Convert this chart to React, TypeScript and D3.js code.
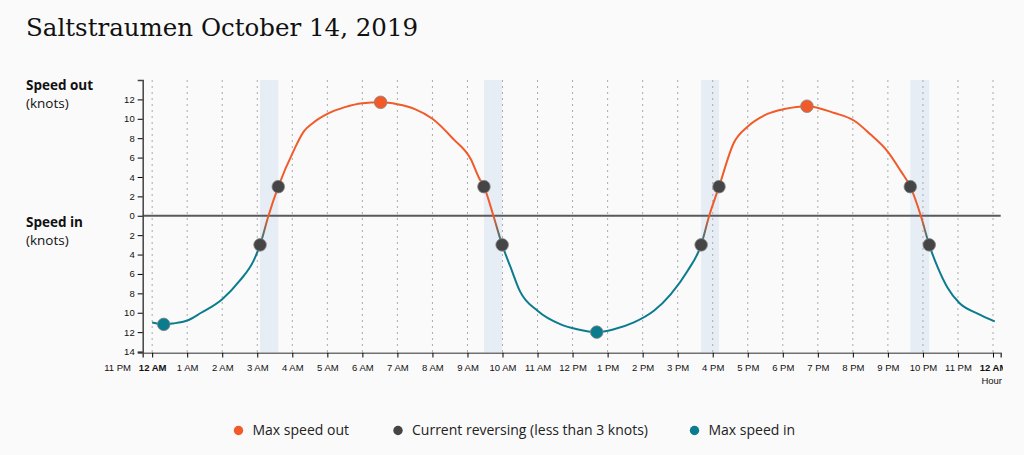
import React, { useEffect, useRef } from 'react';
import * as d3 from 'd3';

// hours after midnight Oct 14, speed in knots (+ = out, - = in)
const hours = [
  0, 0.33, 0.6, 1, 1.4, 2, 2.5, 2.9, 3.08, 3.32, 3.6, 4.05, 4.33, 4.6, 5, 5.5, 6, 6.52, 7, 7.5,
  8, 8.6, 9.1, 9.33, 9.47, 9.74, 9.99, 10.23, 10.5, 11, 11.66, 12.13, 12.69, 13.18, 13.75, 14.32,
  14.8, 15.28, 15.67, 15.9, 16.18, 16.6, 17, 17.56, 18.04, 18.69, 19.47, 20.04, 20.5, 21, 21.37,
  21.64, 21.94, 22.18, 22.42, 22.7, 23.04, 23.56, 24.05,
];
const speeds = [
  -11.0, -11.2, -11.1, -10.8, -10.0, -8.6, -6.7, -4.6, -3.0, 0, 3.0, 6.8, 8.7, 9.6, 10.5, 11.2, 11.6, 11.7, 11.5, 11.0,
  10.0, 7.9, 5.8, 3.9, 3.0, 0, -3.0, -5.3, -7.8, -9.8, -11.2, -11.7, -12.0, -11.7, -11.0, -9.8,
  -8.1, -5.7, -3.0, 0, 3.0, 7.5, 9.2, 10.5, 11.0, 11.3, 10.6, 9.8, 8.4, 6.6, 4.6,
  3.0, 0, -3.0, -5.3, -7.4, -9.0, -10.1, -10.9,
];

const maxOutHours = [6.52, 18.69];
const maxOutSpeeds = [11.7, 11.3];
const maxInHours = [0.33, 12.69];
const maxInSpeeds = [-11.2, -12.0];
const reversingHours = [3.08, 3.6, 9.47, 9.99, 15.67, 16.18, 21.64, 22.18];
const reversingSpeeds = [-3, 3, 3, -3, -3, 3, 3, -3];

const hourTicks = d3.range(-1, 25);
const speedTicks = d3.range(-14, 13, 2);
const legendLabels = ['Max speed out', 'Current reversing (less than 3 knots)', 'Max speed in'];

const ORANGE = '#f15a29';
const TEAL = '#0b7b8e';
const GREY = '#454545';

const hourLabel = (h: number) => {
  const hh = ((h % 24) + 24) % 24;
  const suffix = hh < 12 ? 'AM' : 'PM';
  const n = hh % 12 === 0 ? 12 : hh % 12;
  return `${n} ${suffix}`;
};

const App: React.FC = () => {
  const svgRef = useRef<SVGSVGElement>(null);

  useEffect(() => {
    if (!svgRef.current) return;
    const svg = d3.select(svgRef.current);
    svg.selectAll('*').remove();

    const x = d3.scaleLinear().domain([-0.27, 24.22]).range([142.7, 1000.7]);
    const y = d3.scaleLinear().domain([-14.1, 14]).range([352.5, 80]);
    const axisFont = '"Liberation Sans", Arial, sans-serif';
    const textFont = '"Open Sans", "Noto Sans", sans-serif';

    const defs = svg.append('defs');
    defs.append('clipPath').attr('id', 'clip-right')
      .append('rect').attr('x', 0).attr('y', 0).attr('width', 1003).attr('height', 455);
    const grad = defs.append('linearGradient').attr('id', 'flow')
      .attr('gradientUnits', 'userSpaceOnUse')
      .attr('x1', 0).attr('x2', 0).attr('y1', y(-3)).attr('y2', y(0));
    grad.append('stop').attr('offset', 0).attr('stop-color', TEAL);
    grad.append('stop').attr('offset', 1).attr('stop-color', ORANGE);

    // title
    svg.append('text').attr('x', 26).attr('y', 36)
      .attr('font-family', '"DejaVu Serif", serif').attr('font-size', 24.5)
      .attr('fill', '#111').text('Saltstraumen October 14, 2019');

    // slack water bands
    for (let i = 0; i < reversingHours.length; i += 2) {
      svg.append('rect')
        .attr('x', x(reversingHours[i]))
        .attr('y', y(14))
        .attr('width', x(reversingHours[i + 1]) - x(reversingHours[i]))
        .attr('height', y(-14.1) - y(14))
        .attr('fill', '#e7edf5');
    }

    // dotted hour grid
    svg.append('g').selectAll('line')
      .data(hourTicks.filter(h => h >= 0))
      .enter().append('line')
      .attr('x1', d => x(d)).attr('x2', d => x(d))
      .attr('y1', y(14)).attr('y2', y(-14.1))
      .attr('stroke', '#aaa').attr('stroke-width', 1).attr('stroke-dasharray', '2,4');

    // zero line
    svg.append('line')
      .attr('x1', x.range()[0]).attr('x2', x.range()[1])
      .attr('y1', y(0)).attr('y2', y(0))
      .attr('stroke', '#5a5a5a').attr('stroke-width', 2);

    // y axis
    const yAxis = svg.append('g')
      .attr('transform', `translate(${x.range()[0]},0)`)
      .call(d3.axisLeft(y).tickValues(speedTicks).tickSize(5).tickSizeOuter(5)
        .tickFormat(d => String(Math.abs(Number(d)))));
    yAxis.selectAll('text').attr('font-family', axisFont).attr('font-size', 9.5).attr('fill', '#111');
    yAxis.select('.domain').attr('stroke', '#444').attr('stroke-width', 1.5);

    // x axis
    const xAxis = svg.append('g')
      .attr('clip-path', 'url(#clip-right)')
      .attr('transform', `translate(0,${y.range()[0]})`)
      .call(d3.axisBottom(x).tickValues(hourTicks).tickSize(5).tickSizeOuter(5)
        .tickFormat(d => hourLabel(Number(d))));
    xAxis.selectAll('text').attr('font-family', axisFont).attr('font-size', 9.5).attr('fill', '#111')
      .attr('dy', '1.1em')
      .attr('font-weight', (d: any) => (d % 24 === 0 ? 'bold' : 'normal'));
    xAxis.selectAll('.tick').filter((d: any) => d < 0).select('line').remove();
    xAxis.select('.domain').attr('stroke', '#444').attr('stroke-width', 1.5);

    svg.append('text').attr('x', 1002).attr('y', 384).attr('text-anchor', 'end')
      .attr('font-family', axisFont).attr('font-size', 9.5).attr('fill', '#111').text('Hour');

    // axis titles
    const titles = [
      { t: 'Speed out', y: 90, bold: true },
      { t: '(knots)', y: 108, bold: false },
      { t: 'Speed in', y: 227, bold: true },
      { t: '(knots)', y: 245, bold: false },
    ];
    titles.forEach(d => {
      svg.append('text').attr('x', 26).attr('y', d.y)
        .attr('font-family', textFont).attr('font-size', 13.5)
        .attr('font-weight', d.bold ? 'bold' : 'normal').attr('fill', '#111').text(d.t);
    });

    // current line
    const line = d3.line<number>()
      .x((_d, i) => x(hours[i]))
      .y(d => y(d))
      .curve(d3.curveMonotoneX);
    svg.append('path')
      .attr('d', line(speeds))
      .attr('fill', 'none').attr('stroke', 'url(#flow)').attr('stroke-width', 2);

    const dots = (hs: number[], vs: number[], color: string) => {
      svg.append('g').selectAll('circle')
        .data(hs).enter().append('circle')
        .attr('cx', d => x(d)).attr('cy', (_d, i) => y(vs[i]))
        .attr('r', 6.3).attr('fill', color)
        .attr('stroke', '#888').attr('stroke-width', 0.8);
    };
    dots(reversingHours, reversingSpeeds, GREY);
    dots(maxOutHours, maxOutSpeeds, ORANGE);
    dots(maxInHours, maxInSpeeds, TEAL);

    // legend
    const legendX = [238.5, 398, 694.5];
    const legendColors = [ORANGE, GREY, TEAL];
    legendLabels.forEach((label, i) => {
      svg.append('circle').attr('cx', legendX[i]).attr('cy', 430.5).attr('r', 4.7).attr('fill', legendColors[i]);
      svg.append('text').attr('x', legendX[i] + 14).attr('y', 434.5)
        .attr('font-family', textFont).attr('font-size', 14).attr('fill', '#222').text(label);
    });
  }, []);

  return (
    <div style={{ position: 'fixed', left: 0, top: 0, width: 1024, height: 455, background: '#fafafa' }}>
      <svg ref={svgRef} width={1024} height={455} />
    </div>
  );
};

export default App;
